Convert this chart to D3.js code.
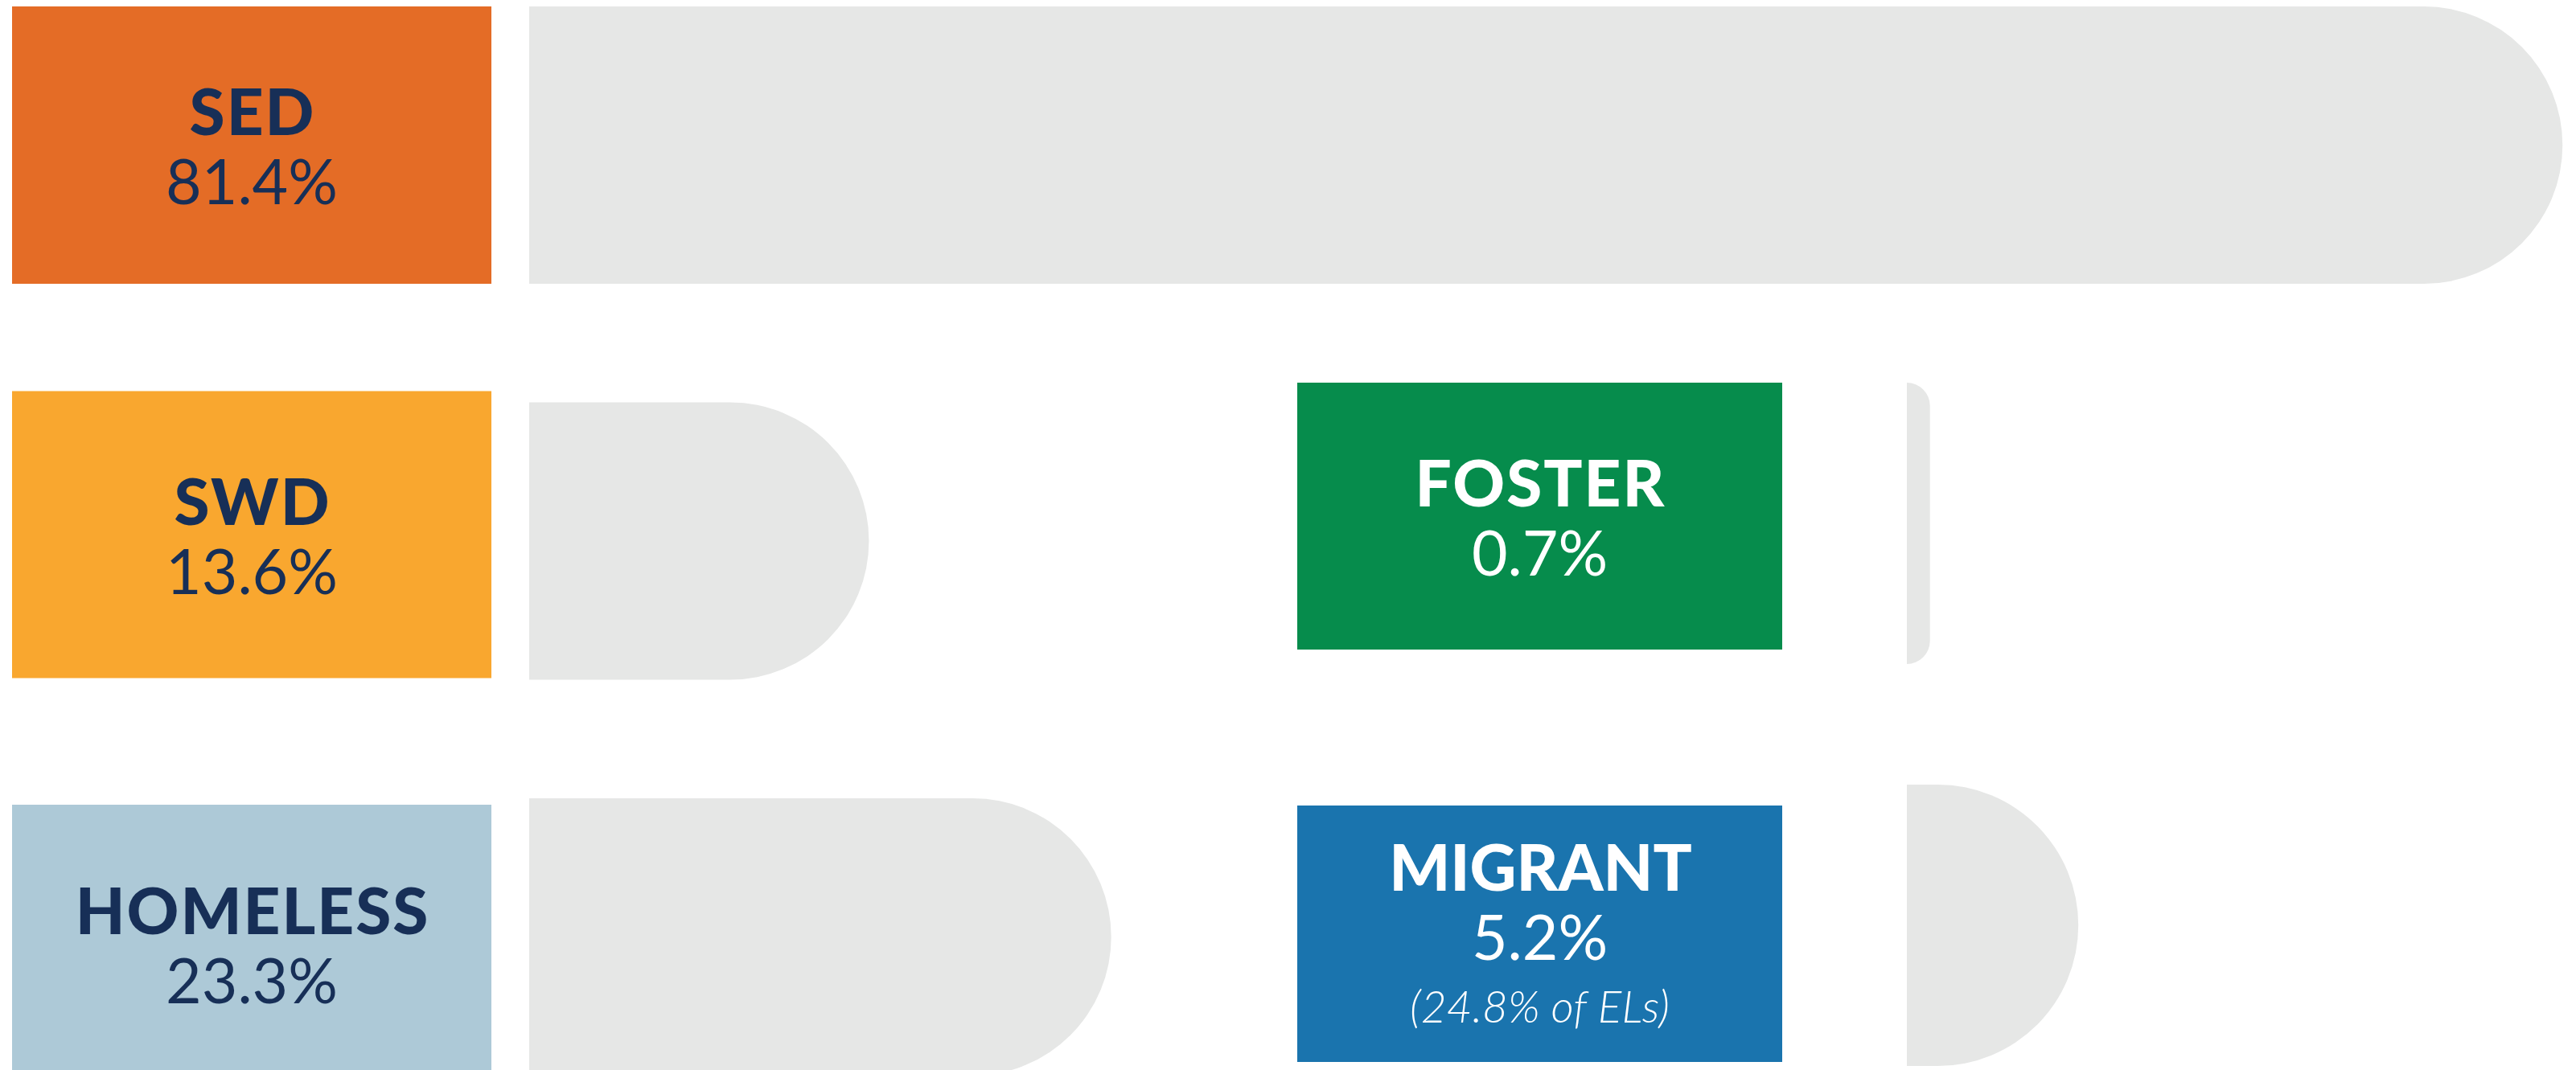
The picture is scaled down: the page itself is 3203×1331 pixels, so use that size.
<!DOCTYPE html>
<html>
<head>
<meta charset="utf-8">
<script src="https://cdn.jsdelivr.net/npm/d3@7"></script>
<style>
  html, body { margin: 0; padding: 0; background: #ffffff; }
  svg { display: block; }
</style>
</head>
<body>
<div id="chart"></div>
<script>
// ---- data ----
const categories  = ["SED", "SWD", "HOMELESS", "FOSTER", "MIGRANT"];
const values      = [81.4, 13.6, 23.3, 0.7, 5.2];
const valueLabels = ["81.4%", "13.6%", "23.3%", "0.7%", "5.2%"];
const notes       = ["", "", "", "", "(24.8% of ELs)"];
const columnOf    = [0, 0, 0, 1, 1];
const rowOf       = [0, 1, 2, 1, 2];

// ---- layout / style ----
const W = 3203, H = 1331;
const boxColors  = ["#E46C26", "#F9A72F", "#ADC9D7", "#068C4C", "#1A74AE"];
const textColors = ["#172F57", "#172F57", "#172F57", "#ffffff", "#ffffff"];
const barColor = "#E6E7E6";
const fontFamily = "Lato, 'Open Sans', sans-serif";
// per column: label box x-extent, bar scale range
const colLayout = [
  { boxX0: 15,   boxX1: 611,  barX0: 658,  pxPer100: 3106 },
  { boxX0: 1613, boxX1: 2216, barX0: 2371, pxPer100: 4100 }
];
// vertical bands per column
const yLeft = d3.scaleBand().domain([0, 1, 2]).range([8, 1338]).paddingInner(0.2995).paddingOuter(0);
const yRight = d3.scaleBand().domain([0, 1, 2]).range([-24, 1326]).paddingInner(0.3).paddingOuter(0);
const yScales = [yLeft, yRight];
// fine adjustments of the label boxes relative to the band (top, bottom)
const boxInset = [[0, 0], [-14, -2], [8, 8], [0, -18], [26, -5]];

const xScales = colLayout.map(c => d3.scaleLinear().domain([0, 100]).range([c.barX0, c.barX0 + c.pxPer100]));

const svg = d3.select("#chart").append("svg")
  .attr("width", W).attr("height", H)
  .attr("viewBox", `0 0 ${W} ${H}`);

svg.append("rect").attr("width", W).attr("height", H).attr("fill", "#ffffff");

const items = categories.map((c, i) => ({
  cat: c, value: values[i], label: valueLabels[i], note: notes[i],
  col: columnOf[i], row: rowOf[i], i
}));

function barPath(d) {
  const x = xScales[d.col];
  const y = yScales[d.col];
  const x0 = x(0), x1 = x(d.value);
  const y0 = y(d.row), h = y.bandwidth();
  const w = x1 - x0;
  const r = Math.min(h / 2, w);
  const p = d3.path();
  p.moveTo(x0, y0);
  p.lineTo(x1 - r, y0);
  p.arcTo(x1, y0, x1, y0 + r, r);
  p.lineTo(x1, y0 + h - r);
  p.arcTo(x1, y0 + h, x1 - r, y0 + h, r);
  p.lineTo(x0, y0 + h);
  p.closePath();
  return p.toString();
}

// grey bars
svg.append("g").selectAll("path")
  .data(items).join("path")
  .attr("d", barPath)
  .attr("fill", barColor);

// label boxes
const g = svg.append("g").selectAll("g")
  .data(items).join("g");

g.each(function(d) {
  const c = colLayout[d.col];
  const y = yScales[d.col];
  const top = y(d.row) + boxInset[d.i][0];
  const bot = y(d.row) + y.bandwidth() + boxInset[d.i][1];
  const cx = (c.boxX0 + c.boxX1) / 2;
  const cy = (top + bot) / 2;
  const sel = d3.select(this);
  sel.append("rect")
    .attr("x", c.boxX0).attr("y", top)
    .attr("width", c.boxX1 - c.boxX0).attr("height", bot - top)
    .attr("fill", boxColors[d.i]);
  const hasNote = d.note !== "";
  const lblY = hasNote ? cy - 54 : cy - 12;
  const valY = hasNote ? cy + 32 : cy + 74;
  const t = sel.append("text")
    .attr("text-anchor", "middle")
    .attr("font-family", fontFamily)
    .attr("fill", textColors[d.i]);
  t.append("tspan")
    .attr("x", cx + 1).attr("y", lblY)
    .attr("font-weight", 900)
    .attr("font-size", 80)
    .attr("letter-spacing", d.cat === "MIGRANT" ? 0 : 2)
    .text(d.cat);
  t.append("tspan")
    .attr("x", cx).attr("y", valY)
    .attr("font-weight", 400)
    .attr("font-size", 77)
    .text(d.label);
  if (hasNote) {
    t.append("tspan")
      .attr("x", cx).attr("y", cy + 110)
      .attr("font-weight", 300)
      .attr("font-style", "italic")
      .attr("font-size", 55)
      .text(d.note);
  }
});
</script>
</body>
</html>
